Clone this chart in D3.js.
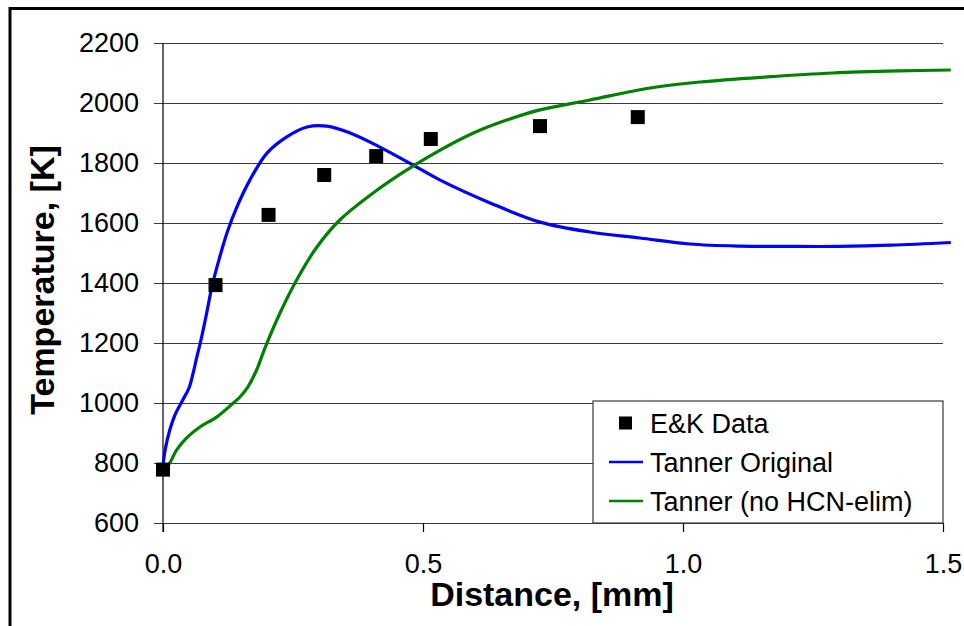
<!DOCTYPE html>
<html>
<head>
<meta charset="utf-8">
<script src="https://cdn.jsdelivr.net/npm/d3@7"></script>
<style>
	html, body {
		margin: 0;
		padding: 0;
		background: #ffffff;
	}

	svg {
		display: block;
		font-family: "Liberation Sans", Arial, sans-serif;
	}
</style>
</head>
<body>
<div id="container"></div>
<script>
// E&K measured flame temperatures
const ekDistance = [0, 0.101, 0.203, 0.31, 0.41, 0.515, 0.725, 0.913];
const ekTemperature = [778, 1393, 1627, 1760, 1823, 1880, 1923, 1953];

// Tanner model, original mechanism
const originalDistance = [
	0, 0.004, 0.013, 0.023, 0.038, 0.05, 0.058, 0.065, 0.073, 0.084, 0.094,
	0.106, 0.123, 0.142, 0.167, 0.2, 0.238, 0.277, 0.315, 0.36, 0.417, 0.481,
	0.533, 0.629, 0.725, 0.821, 0.917, 1.013, 1.11, 1.2, 1.3, 1.4, 1.515,
];
const originalTemperature = [
	790, 843, 910, 960, 1010, 1050, 1100, 1153, 1210, 1300, 1387, 1467, 1567,
	1653, 1743, 1833, 1887, 1920, 1923, 1900, 1853, 1793, 1743, 1667, 1603,
	1570, 1550, 1530, 1523, 1522, 1522, 1526, 1535,
];

// Tanner model without HCN elimination
const noHcnDistance = [
	0, 0.013, 0.026, 0.045, 0.071, 0.103, 0.132, 0.148, 0.163, 0.18, 0.196,
	0.225, 0.257, 0.296, 0.34, 0.404, 0.469, 0.533, 0.597, 0.661, 0.725, 0.821,
	0.937, 1.033, 1.162, 1.288, 1.417, 1.515,
];
const noHcnTemperature = [
	770, 800, 843, 883, 920, 953, 995, 1020, 1053, 1110, 1183, 1300, 1410,
	1520, 1610, 1700, 1777, 1843, 1900, 1943, 1977, 2010, 2050, 2070, 2087,
	2100, 2107, 2110,
];

const xTicks = [0, 0.5, 1.0, 1.5];
const yTicks = [600, 800, 1000, 1200, 1400, 1600, 1800, 2000, 2200];

const legendLabels = ["E&K Data", "Tanner Original", "Tanner (no HCN-elim)"];

const theme = {
	width: 964,
	height: 626,
	left: 163,
	right: 943,
	top: 43,
	bottom: 523,
	tickSize: 9,
	tickFont: 27,
	titleFont: 34,
	gridColor: "#3a3a3a",
	blue: "#0000ff",
	green: "#008000",
	lineWidth: 3.2,
	markerSize: 14,
};

const x = d3.scaleLinear().domain([0, 1.5]).range([theme.left, theme.right]);
const y = d3.scaleLinear().domain([600, 2200]).range([theme.bottom, theme.top]);

const svg = d3
	.select("#container")
	.append("svg")
	.attr("width", theme.width)
	.attr("height", theme.height);

// Outer frame, cut off at the right and bottom edges
svg
	.append("path")
	.attr("d", `M10,${theme.height + 5}V8.5H${theme.width + 5}`)
	.attr("fill", "none")
	.attr("stroke", "#000")
	.attr("stroke-width", 3);

// Horizontal gridlines with the y axis ticks
const yAxis = svg
	.append("g")
	.attr("transform", `translate(${theme.left},0)`)
	.call(
		d3
			.axisLeft(y)
			.tickValues(yTicks)
			.tickSize(-(theme.right - theme.left))
			.tickSizeOuter(0)
			.tickPadding(24)
			.tickFormat(d3.format("d")),
	);

yAxis.select(".domain").remove();
yAxis
	.selectAll(".tick line")
	.attr("x1", -theme.tickSize)
	.attr("stroke", theme.gridColor)
	.attr("stroke-width", 1.2);
yAxis
	.selectAll(".tick text")
	.attr("font-size", theme.tickFont)
	.attr("font-family", "Liberation Sans, Arial, sans-serif")
	.attr("fill", "#000");

// Vertical value axis line at distance 0
svg
	.append("line")
	.attr("x1", x(0))
	.attr("x2", x(0))
	.attr("y1", theme.top)
	.attr("y2", theme.bottom + theme.tickSize)
	.attr("stroke", "#000")
	.attr("stroke-width", 1.2);

// Legend box sits on top of the gridlines
const legendBox = {x0: 593, y0: 401, x1: theme.right, y1: theme.bottom};
svg
	.append("rect")
	.attr("x", legendBox.x0)
	.attr("y", legendBox.y0)
	.attr("width", legendBox.x1 - legendBox.x0)
	.attr("height", legendBox.y1 - legendBox.y0)
	.attr("fill", "#fff")
	.attr("stroke", theme.gridColor)
	.attr("stroke-width", 1.2);

// X axis ticks and labels
const xAxis = svg
	.append("g")
	.attr("transform", `translate(0,${theme.bottom})`)
	.call(
		d3
			.axisBottom(x)
			.tickValues(xTicks)
			.tickSize(theme.tickSize)
			.tickSizeOuter(0)
			.tickPadding(22)
			.tickFormat(d3.format(".1f")),
	);

xAxis.select(".domain").remove();
xAxis.selectAll(".tick line").attr("stroke", "#000").attr("stroke-width", 1.2);
xAxis
	.selectAll(".tick text")
	.attr("font-size", theme.tickFont)
	.attr("font-family", "Liberation Sans, Arial, sans-serif")
	.attr("fill", "#000");

// Model curves
const line = d3
	.line()
	.x((d) => x(d[0]))
	.y((d) => y(d[1]))
	.curve(d3.curveCatmullRom.alpha(0.5));

const series = [
	{
		color: theme.blue,
		points: d3.zip(originalDistance, originalTemperature),
	},
	{
		color: theme.green,
		points: d3.zip(noHcnDistance, noHcnTemperature),
	},
];

svg
	.append("g")
	.selectAll("path")
	.data(series)
	.join("path")
	.attr("d", (d) => line(d.points))
	.attr("fill", "none")
	.attr("stroke", (d) => d.color)
	.attr("stroke-width", theme.lineWidth)
	.attr("stroke-linejoin", "round");

// Measured data markers
svg
	.append("g")
	.selectAll("rect")
	.data(d3.zip(ekDistance, ekTemperature))
	.join("rect")
	.attr("x", (d) => x(d[0]) - theme.markerSize / 2)
	.attr("y", (d) => y(d[1]) - theme.markerSize / 2)
	.attr("width", theme.markerSize)
	.attr("height", theme.markerSize)
	.attr("fill", "#000");

// Legend entries
const legendRows = [423, 462, 501];
const legend = svg
	.append("g")
	.attr("font-size", theme.tickFont)
	.selectAll("g")
	.data(legendLabels)
	.join("g")
	.attr("transform", (d, i) => `translate(0,${legendRows[i]})`);

legend
	.filter((d, i) => i === 0)
	.append("rect")
	.attr("x", 619)
	.attr("y", -6.5)
	.attr("width", 13)
	.attr("height", 13)
	.attr("fill", "#000");

legend
	.filter((d, i) => i > 0)
	.append("line")
	.attr("x1", 609)
	.attr("x2", 643)
	.attr("stroke", (d, i) => series[i].color)
	.attr("stroke-width", 2.5);

legend
	.append("text")
	.attr("x", 650)
	.attr("dy", "0.36em")
	.attr("fill", "#000")
	.text((d) => d);

// Axis titles
svg
	.append("text")
	.attr("x", (theme.left + theme.right) / 2 - 1)
	.attr("y", 606)
	.attr("text-anchor", "middle")
	.attr("font-size", theme.titleFont)
	.attr("font-weight", "bold")
	.text("Distance, [mm]");

svg
	.append("text")
	.attr("transform", `translate(54,${(theme.top + theme.bottom) / 2 - 3})rotate(-90)`)
	.attr("text-anchor", "middle")
	.attr("font-size", theme.titleFont)
	.attr("font-weight", "bold")
	.text("Temperature, [K]");
</script>
</body>
</html>
